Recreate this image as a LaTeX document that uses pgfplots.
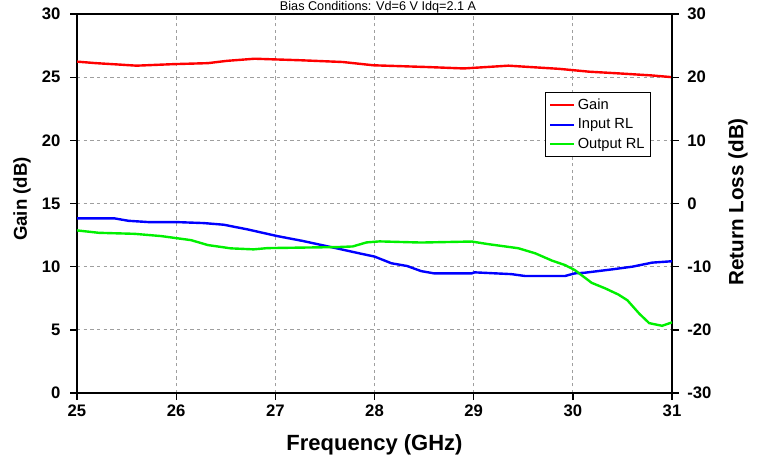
\documentclass[border=0pt]{standalone}
\usepackage{fontspec}
\setmainfont{Liberation Sans}
\usepackage{pgfplots}
\pgfplotsset{compat=1.18}
\usepackage{pgfplotstable}

\definecolor{rlgreen}{RGB}{0,240,0}

% gain (dB), left axis
\pgfplotstableread{
f g
25.00 26.23
25.19 26.11
25.42 26.00
25.60 25.91
25.97 26.03
26.32 26.11
26.51 26.29
26.79 26.46
27.25 26.34
27.68 26.20
27.99 25.94
28.54 25.80
28.90 25.69
29.35 25.91
29.86 25.66
30.17 25.43
30.44 25.31
30.79 25.14
31.00 25.00
}\gaintab

% input return loss (dB), right axis
\pgfplotstableread{
f r
25.00 -2.36
25.38 -2.36
25.52 -2.74
25.72 -2.94
26.00 -2.94
26.28 -3.10
26.48 -3.36
26.72 -4.10
27.02 -5.16
27.28 -5.94
27.62 -7.10
27.85 -7.90
28.00 -8.40
28.17 -9.46
28.33 -9.90
28.47 -10.70
28.60 -11.06
28.98 -11.06
29.01 -10.90
29.38 -11.18
29.52 -11.48
29.92 -11.48
30.02 -11.06
30.12 -10.96
30.40 -10.42
30.60 -10.00
30.80 -9.36
31.00 -9.14
}\inrltab

% output return loss (dB), right axis
\pgfplotstableread{
f r
25.00 -4.26
25.22 -4.64
25.58 -4.80
25.85 -5.16
26.00 -5.48
26.15 -5.80
26.32 -6.58
26.55 -7.10
26.78 -7.26
26.92 -7.06
27.62 -6.90
27.78 -6.80
27.92 -6.16
28.05 -6.00
28.47 -6.18
28.98 -6.02
29.15 -6.44
29.45 -7.08
29.62 -7.88
29.79 -9.04
29.92 -9.74
30.02 -10.54
30.19 -12.56
30.33 -13.46
30.46 -14.42
30.55 -15.32
30.67 -17.44
30.77 -18.94
30.90 -19.36
31.00 -18.82
}\outrltab

\pgfplotsset{
  common/.style={
    scale only axis, width=446.25pt, height=284.25pt,
    xmin=25, xmax=31,
    /pgf/number format/assume math mode=true,
    ticklabel style={font=\bfseries\fontsize{12.5}{14}\selectfont},
    tick align=outside, major tick length=5pt,
    tick style={black, line width=1pt},
  },
}

\begin{document}
\begin{tikzpicture}
\useasboundingbox (-57.75pt,-48pt) rectangle (513.75pt,294.75pt);
\begin{axis}[common,
  ymin=0, ymax=30,
  axis x line*=bottom, axis y line*=left,
  x axis line style={-, line width=1.8pt},
  y axis line style={-, line width=2.2pt},
  xtick={25,26,...,31}, ytick={0,5,...,30},
  yticklabel style={xshift=-4pt},
  grid=major, grid style={gray!75, line width=0.8pt, dash pattern=on 2.5pt off 2.5pt},
  title={Bias Conditions: Vd=6 V Idq=2.1 A},
  title style={at={(0.506,1)}, anchor=base, yshift=-3.6pt, inner sep=0pt,
    font=\fontsize{9.5}{11}\selectfont},
  xlabel={Frequency (GHz)},
  xlabel style={at={(0.5,0)}, anchor=base, yshift=-42.75pt,
    font=\bfseries\fontsize{16.5}{19}\selectfont},
  ylabel={Gain (dB)},
  ylabel style={at={(-0.0924,0.512)}, anchor=center,
    font=\bfseries\fontsize{14}{17}\selectfont},
]
\addplot[red, line width=1.8pt] table[x=f, y=g] {\gaintab};
\end{axis}
\begin{axis}[common,
  ymin=-30, ymax=30,
  axis x line*=top, axis y line*=right,
  x axis line style={-, line width=1.1pt},
  y axis line style={-, line width=2.2pt},
  xtick=\empty, ytick={-30,-20,...,30},
  yticklabel style={xshift=3pt},
  ylabel={Return Loss (dB)},
  ylabel style={at={(1.111,0.504)}, anchor=center,
    font=\bfseries\fontsize{15.5}{18}\selectfont},
  legend style={at={(0.965,0.794)}, anchor=north east, draw=black, line width=0.8pt,
    fill=white, font=\fontsize{11}{13}\selectfont, row sep=1.5pt, inner sep=2.5pt},
  legend cell align=left,
  legend image code/.code={\draw[#1, line width=1.6pt] (0pt,0pt) -- (18pt,0pt);},
]
\addlegendimage{red}
\addlegendentry{Gain}
\addplot[blue, line width=1.8pt] table[x=f, y=r] {\inrltab};
\addlegendentry{Input RL}
\addplot[rlgreen, line width=1.8pt] table[x=f, y=r] {\outrltab};
\addlegendentry{Output RL}
\end{axis}
\end{tikzpicture}
\end{document}
